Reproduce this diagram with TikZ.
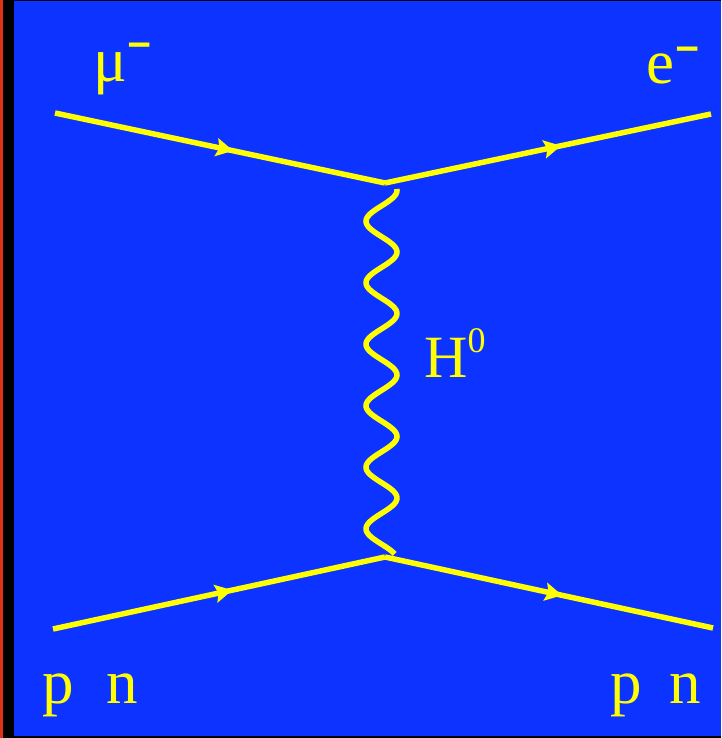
\documentclass[tikz,border=0pt]{standalone}
\usepackage{fontspec}
\setmainfont{Liberation Serif}
\usetikzlibrary{arrows.meta,decorations.markings}
\definecolor{bgblue}{RGB}{12,51,255}
\definecolor{ylw}{RGB}{255,255,0}
\definecolor{edgered}{RGB}{225,50,20}
\newcommand\supminus[1]{\raisebox{#1}{\scalebox{1.25}[0.9]{-}}}
\tikzset{
  fermion/.style={draw=ylw, line width=5.5pt,
    postaction={decorate},
    decoration={markings, mark=at position 0.54 with {\arrow[ylw]{Stealth[length=17pt,width=18pt,inset=3pt]}}}},
  boson/.style={draw=ylw, line width=5.5pt},
  lbl/.style={text=ylw, inner sep=0pt, anchor=base west, font=\fontsize{63}{63}\selectfont}
}
\begin{document}
\begin{tikzpicture}[x=1pt,y=-1pt]
\useasboundingbox (0,0) rectangle (721,738);
\fill[black] (0,0) rectangle (721,738);
\fill[edgered] (0,0) rectangle (3,738);
\fill[bgblue] (14,1) rectangle (721,736);
\coordinate (a) at (55,113);
\coordinate (v1) at (385,183);
\coordinate (b) at (711,114);
\coordinate (c) at (53,629);
\coordinate (v2) at (385,557);
\coordinate (d) at (713,628);
\draw[fermion] (a) -- (v1);
\draw[fermion] (v1) -- (b);
\draw[fermion] (c) -- (v2);
\draw[fermion] (v2) -- (d);
\draw[boson] plot[domain=189:554, samples=240, variable=\t] ({381.5+15.5*cos(5.853659*(\t-252))}, {\t});
\node[lbl] (mu) at (93,82) {μ\supminus{23pt}};
\node[lbl] (el) at (646,84) {e\supminus{21pt}};
\node[lbl, font=\fontsize{60}{60}\selectfont] (H) at (424,377) {H\raisebox{25pt}{\fontsize{36}{36}\selectfont 0}};
\node[lbl] (pnl) at (42.5,703) {p\hspace{32pt}n};
\node[lbl] (pnr) at (610.5,703) {p\hspace{27pt}n};
\end{tikzpicture}
\end{document}
